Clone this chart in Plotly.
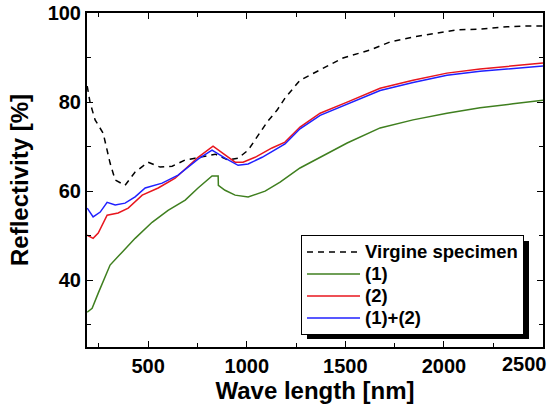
import plotly.graph_objects as go

# Virgine specimen (dashed black)
virgin_nm = [191, 206, 231, 272, 307, 333, 383, 434, 500, 561, 622, 688, 738, 840, 905,
             956, 1007, 1058, 1103, 1154, 1194, 1270, 1372, 1488, 1625, 1727, 1843, 1965,
             2066, 2183, 2320, 2436, 2502]
virgin_r = [83.6, 79.8, 76.0, 73.0, 66.3, 62.5, 61.3, 64.3, 66.5, 65.4, 65.6, 67.0, 67.4, 68.3, 67.0,
            67.4, 69.2, 72.6, 75.5, 78.2, 80.9, 84.9, 87.2, 89.9, 91.7, 93.5, 94.6, 95.5,
            96.2, 96.4, 96.9, 97.1, 97.1]

# (1) green
s1_nm = [191, 216, 247, 307, 368, 434, 520, 601, 688, 753, 824, 855, 856, 890, 941, 1007,
         1093, 1169, 1270, 1372, 1509, 1676, 1843, 2015, 2183, 2350, 2502]
s1_r = [32.8, 33.7, 37.1, 43.4, 46.3, 49.4, 53.0, 55.7, 58.0, 60.7, 63.4, 63.4, 61.3, 60.2, 59.1, 58.7,
        60.0, 62.0, 65.2, 67.6, 70.8, 74.2, 76.0, 77.5, 78.7, 79.6, 80.4]

# (2) red
s2_nm = [191, 221, 247, 292, 348, 399, 470, 551, 637, 753, 829, 890, 941, 981, 1042, 1128,
         1194, 1270, 1372, 1509, 1676, 1843, 2015, 2183, 2350, 2502]
s2_r = [50.1, 49.4, 50.6, 54.6, 55.1, 56.2, 59.1, 60.7, 62.9, 67.6, 70.1, 68.1, 66.5, 66.5, 67.6, 69.7,
        71.0, 74.4, 77.5, 80.0, 83.1, 84.9, 86.5, 87.4, 88.1, 88.8]

# (1)+(2) blue
s12_nm = [191, 221, 257, 292, 333, 383, 434, 485, 571, 652, 753, 824, 890, 956, 1007, 1078,
          1194, 1270, 1372, 1509, 1676, 1843, 2015, 2183, 2350, 2502]
s12_r = [56.2, 54.2, 55.3, 57.5, 56.9, 57.3, 58.7, 60.7, 61.8, 63.6, 67.2, 69.2, 67.4, 65.8, 66.1, 67.6,
         70.6, 74.0, 77.0, 79.5, 82.6, 84.4, 86.0, 86.9, 87.5, 88.1]

x_ticks = [500, 1000, 1500, 2000, 2500]
x_ticktext = ['500', '1000', '1500', '2000', '']   # 2500 is written inside the edge below


def leg(name):
    return '<span style="font-size:18.5px">' + name + '</span>'


fig = go.Figure()
fig.add_trace(go.Scatter(x=virgin_nm, y=virgin_r, mode='lines', name=leg('Virgine specimen'),
                         line=dict(color='black', width=1.5, dash='6px,5px')))
fig.add_trace(go.Scatter(x=s1_nm, y=s1_r, mode='lines', name=leg('(1)'),
                         line=dict(color='#3f7f1f', width=1.5)))
fig.add_trace(go.Scatter(x=s2_nm, y=s2_r, mode='lines', name=leg('(2)'),
                         line=dict(color='#e8161e', width=1.5)))
fig.add_trace(go.Scatter(x=s12_nm, y=s12_r, mode='lines', name=leg('(1)+(2)'),
                         line=dict(color='#2020ff', width=1.5)))

font_family = 'Liberation Sans, Arial, sans-serif'

axis_common = dict(
    showline=True, linecolor='black', linewidth=2, mirror='ticks',
    ticks='inside', ticklen=6, tickwidth=1.2, tickcolor='black',
    showgrid=False, zeroline=False, automargin=False, ticklabeloverflow='allow',
    tickfont=dict(family=font_family, size=20, color='black', weight='bold'),
)

fig.update_xaxes(
    range=[190, 2502], tickmode='array', tickvals=x_ticks, ticktext=x_ticktext,
    minor=dict(tickvals=[250, 750, 1250, 1750, 2250], ticks='inside', ticklen=4, tickcolor='black'),
    title=dict(text='Wave length [nm]', standoff=4,
               font=dict(family=font_family, size=24, color='black', weight='bold')),
    **axis_common)
fig.update_yaxes(
    range=[25, 100], tick0=0, dtick=20,
    minor=dict(dtick=10, ticks='inside', ticklen=4, tickcolor='black'),
    title=dict(text='Reflectivity [%]',
               font=dict(family=font_family, size=24, color='black', weight='bold')),
    **axis_common)

fig.add_annotation(x=2500, y=0, xref='x', yref='paper', text='2500', showarrow=False,
                   xanchor='right', yanchor='top', xshift=6, yshift=-4,
                   font=dict(family=font_family, size=20, color='black', weight='bold'))

# legend shadow
fig.add_shape(type='rect', xref='paper', yref='paper',
              x0=(307 - 87) / 456, x1=(529 - 87) / 456,
              y0=(347 - 339) / 334, y1=(347 - 241) / 334,
              fillcolor='black', line=dict(width=0), layer='above')

fig.update_layout(
    template='none',
    width=560, height=410,
    margin=dict(l=87, r=17, t=13, b=63),
    paper_bgcolor='white', plot_bgcolor='white',
    font=dict(family=font_family, color='black'),
    showlegend=True,
    legend=dict(
        x=(301 - 87) / 456, y=(347 - 235) / 334, xanchor='left', yanchor='top',
        bgcolor='white', bordercolor='black', borderwidth=1,
        font=dict(family=font_family, size=14.6, color='black', weight='bold'),
        tracegroupgap=0, itemwidth=53,
    ),
)

# drop the page's default body margin so the figure sits at the window corner
fig.write_html("out.html", config={'displayModeBar': False},
               post_script="document.body.style.margin='0px';")
